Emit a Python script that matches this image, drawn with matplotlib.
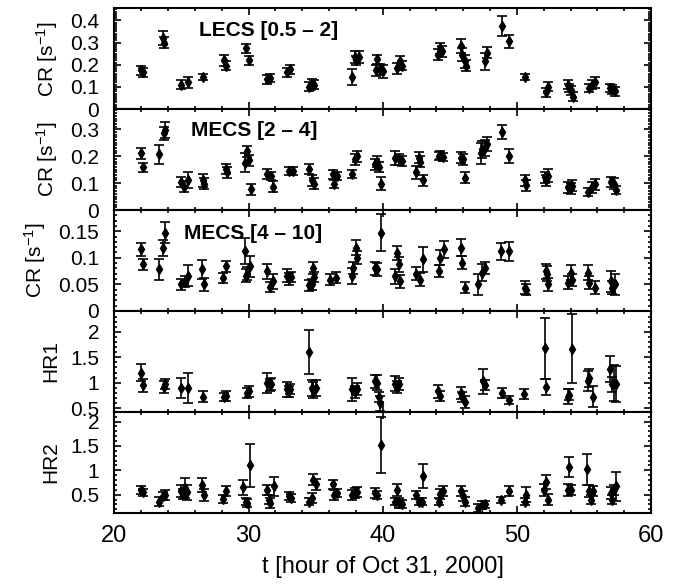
import numpy as np
import matplotlib
matplotlib.use("Agg")
import matplotlib.pyplot as plt
from matplotlib.ticker import MultipleLocator, FuncFormatter

plt.rcParams['font.family'] = ['Liberation Sans', 'DejaVu Sans']
plt.rcParams['mathtext.fontset'] = 'custom'
plt.rcParams['mathtext.rm'] = 'Liberation Sans'
plt.rcParams['mathtext.it'] = 'Liberation Sans:italic'

# LECS [0.5 - 2] count rate
t1 = [22.0, 22.1, 23.6, 23.7, 25.0,
      25.5, 26.6, 28.2, 28.3, 29.8,
      30.0, 31.4, 31.6, 32.9, 33.1,
      34.5, 34.7, 34.9, 37.7, 37.9,
      38.0, 38.2, 39.5, 39.6, 39.8,
      40.0, 41.1, 41.3, 41.4, 44.1,
      44.3, 44.4, 45.8, 45.9, 46.1,
      46.2, 47.6, 47.8, 48.9, 49.4,
      50.6, 52.2, 52.3, 53.8, 53.9,
      54.0, 54.2, 55.4, 55.6, 55.8,
      56.9, 57.1, 57.3]
cr1 = [0.175, 0.165, 0.32, 0.30, 0.11,
       0.12, 0.145, 0.22, 0.195, 0.275,
       0.22, 0.135, 0.14, 0.165, 0.18,
       0.10, 0.115, 0.11, 0.145, 0.235,
       0.22, 0.235, 0.175, 0.225, 0.18,
       0.17, 0.185, 0.215, 0.195, 0.245,
       0.275, 0.26, 0.285, 0.245, 0.215,
       0.195, 0.215, 0.255, 0.375, 0.305,
       0.145, 0.075, 0.10, 0.11, 0.095,
       0.085, 0.055, 0.095, 0.11, 0.12,
       0.095, 0.09, 0.08]
e1 = [0.02, 0.02, 0.03, 0.025, 0.02,
      0.025, 0.015, 0.025, 0.02, 0.02,
      0.02, 0.02, 0.02, 0.02, 0.02,
      0.02, 0.02, 0.02, 0.035, 0.025,
      0.02, 0.025, 0.025, 0.02, 0.025,
      0.03, 0.025, 0.025, 0.02, 0.025,
      0.025, 0.025, 0.03, 0.03, 0.03,
      0.025, 0.04, 0.025, 0.045, 0.03,
      0.015, 0.02, 0.02, 0.02, 0.02,
      0.02, 0.02, 0.02, 0.02, 0.025,
      0.02, 0.02, 0.02]

# MECS [2 - 4] count rate
t2 = [22.0, 22.1, 23.3, 23.7, 23.8,
      25.0, 25.2, 25.5, 26.6, 26.7,
      28.3, 28.4, 29.7, 29.9, 30.0,
      30.2, 31.4, 31.7, 31.8, 33.0,
      33.3, 34.5, 34.7, 34.9, 36.3,
      36.4, 36.6, 37.7, 37.9, 38.1,
      39.4, 39.6, 39.7, 39.9, 40.9,
      41.2, 41.4, 42.5, 42.7, 42.8,
      43.0, 44.2, 44.3, 44.5, 45.8,
      46.0, 46.1, 47.3, 47.4, 47.6,
      47.8, 48.9, 49.4, 50.6, 50.7,
      52.1, 52.2, 52.3, 53.8, 54.0,
      54.1, 55.3, 55.6, 55.8, 57.0,
      57.2, 57.4]
cr2 = [0.21, 0.158, 0.207, 0.285, 0.297,
       0.104, 0.086, 0.11, 0.11, 0.098,
       0.152, 0.14, 0.176, 0.218, 0.185,
       0.077, 0.134, 0.125, 0.086, 0.146,
       0.144, 0.152, 0.11, 0.098, 0.132,
       0.096, 0.128, 0.134, 0.188, 0.2,
       0.17, 0.18, 0.16, 0.098, 0.194,
       0.188, 0.182, 0.14, 0.194, 0.18,
       0.11, 0.2, 0.205, 0.198, 0.194,
       0.188, 0.12, 0.21, 0.225, 0.232,
       0.245, 0.29, 0.2, 0.11, 0.092,
       0.122, 0.11, 0.128, 0.084, 0.08,
       0.09, 0.068, 0.084, 0.095, 0.104,
       0.098, 0.074]
e2 = [0.02, 0.015, 0.035, 0.025, 0.03,
      0.02, 0.02, 0.03, 0.025, 0.02,
      0.02, 0.02, 0.035, 0.02, 0.02,
      0.02, 0.02, 0.015, 0.02, 0.015,
      0.015, 0.02, 0.02, 0.02, 0.015,
      0.015, 0.015, 0.015, 0.02, 0.02,
      0.02, 0.02, 0.02, 0.025, 0.025,
      0.02, 0.02, 0.025, 0.02, 0.02,
      0.02, 0.015, 0.015, 0.015, 0.02,
      0.02, 0.02, 0.04, 0.03, 0.03,
      0.025, 0.025, 0.025, 0.02, 0.02,
      0.02, 0.02, 0.025, 0.02, 0.02,
      0.02, 0.015, 0.02, 0.02, 0.02,
      0.02, 0.015]

# MECS [4 - 10] count rate
t3 = [22.0, 22.1, 23.3, 23.6, 23.8,
      25.0, 25.3, 25.5, 26.5, 26.7,
      28.1, 28.3, 29.7, 29.8, 29.9,
      30.1, 31.4, 31.6, 31.8, 32.9,
      33.0, 33.2, 34.5, 34.7, 34.8,
      34.9, 36.1, 36.5, 37.7, 37.8,
      38.0, 38.1, 39.4, 39.6, 39.9,
      40.9, 41.1, 41.2, 41.3, 42.5,
      42.8, 43.0, 44.2, 44.3, 44.6,
      45.8, 45.9, 46.1, 47.1, 47.4,
      47.6, 48.8, 49.4, 50.6, 50.7,
      52.2, 52.25, 52.3, 53.8, 54.0,
      54.1, 55.3, 55.4, 55.8, 57.0,
      57.1, 57.3]
cr3 = [0.116, 0.0875, 0.078, 0.119, 0.147,
       0.05, 0.055, 0.066, 0.078, 0.05,
       0.062, 0.084, 0.1125, 0.066, 0.07,
       0.084, 0.075, 0.045, 0.056, 0.066,
       0.06, 0.064, 0.048, 0.05, 0.081,
       0.064, 0.059, 0.0625, 0.066, 0.081,
       0.119, 0.1, 0.08, 0.078, 0.147,
       0.065, 0.109, 0.0875, 0.056, 0.07,
       0.059, 0.097, 0.075, 0.1, 0.116,
       0.119, 0.091, 0.044, 0.05, 0.072,
       0.081, 0.1125, 0.1125, 0.044, 0.04,
       0.075, 0.07, 0.05, 0.053, 0.072,
       0.058, 0.072, 0.053, 0.044, 0.056,
       0.044, 0.05]
e3 = [0.012, 0.01, 0.02, 0.015, 0.02,
      0.01, 0.01, 0.02, 0.018, 0.012,
      0.01, 0.01, 0.025, 0.012, 0.012,
      0.02, 0.014, 0.01, 0.014, 0.012,
      0.012, 0.01, 0.01, 0.01, 0.012,
      0.01, 0.01, 0.01, 0.015, 0.012,
      0.014, 0.012, 0.012, 0.012, 0.035,
      0.014, 0.014, 0.014, 0.012, 0.012,
      0.012, 0.024, 0.012, 0.014, 0.016,
      0.016, 0.012, 0.01, 0.02, 0.016,
      0.012, 0.016, 0.018, 0.012, 0.01,
      0.014, 0.014, 0.012, 0.012, 0.014,
      0.012, 0.014, 0.012, 0.012, 0.02,
      0.012, 0.02]

# hardness ratio HR1
t4 = [22.0, 22.1, 23.7, 23.8, 25.0,
      25.5, 26.6, 28.2, 28.3, 29.9,
      30.0, 31.4, 31.6, 31.7, 32.9,
      33.0, 33.1, 34.5, 34.7, 34.8,
      35.0, 37.7, 37.9, 38.1, 39.4,
      39.6, 39.7, 39.8, 40.9, 41.1,
      41.2, 44.1, 44.3, 45.8, 45.9,
      46.1, 47.5, 47.6, 48.9, 49.4,
      50.5, 52.1, 52.2, 53.8, 53.9,
      54.1, 55.3, 55.4, 55.7, 56.9,
      57.1, 57.2, 57.4]
hr1 = [1.2, 0.95, 0.92, 0.98, 0.9,
       0.9, 0.73, 0.72, 0.74, 0.8,
       0.83, 1.0, 0.95, 0.97, 0.87,
       0.83, 0.88, 1.6, 0.9, 0.86,
       0.9, 0.87, 0.82, 0.88, 1.03,
       1.0, 0.72, 0.6, 0.98, 0.92,
       0.97, 0.83, 0.74, 0.8, 0.72,
       0.63, 1.03, 0.96, 0.8, 0.67,
       0.78, 1.68, 0.92, 0.73, 0.77,
       1.67, 1.03, 1.1, 0.73, 1.27,
       0.97, 1.0, 0.97]
e4 = [0.17, 0.13, 0.12, 0.1, 0.2,
      0.3, 0.1, 0.08, 0.1, 0.1,
      0.1, 0.2, 0.12, 0.12, 0.15,
      0.1, 0.1, 0.43, 0.15, 0.15,
      0.15, 0.22, 0.12, 0.12, 0.13,
      0.15, 0.1, 0.15, 0.15, 0.12,
      0.12, 0.12, 0.1, 0.12, 0.1,
      0.12, 0.25, 0.1, 0.1, 0.08,
      0.1, 0.6, 0.16, 0.15, 0.1,
      0.67, 0.2, 0.18, 0.2, 0.25,
      0.15, 0.35, 0.35]

# hardness ratio HR2
t5 = [22.0, 22.1, 23.3, 23.6, 23.8,
      25.0, 25.1, 25.3, 25.4, 26.5,
      26.7, 28.1, 28.3, 29.6, 29.8,
      29.9, 30.1, 31.4, 31.5, 31.6,
      31.9, 33.0, 33.2, 34.5, 34.7,
      34.8, 35.0, 36.3, 36.4, 36.6,
      37.7, 37.9, 38.1, 39.4, 39.6,
      39.9, 40.9, 41.1, 41.2, 41.4,
      42.5, 42.7, 42.9, 43.0, 44.2,
      44.3, 44.5, 45.8, 46.0, 46.1,
      47.1, 47.4, 47.6, 48.8, 49.4,
      50.6, 50.7, 52.0, 52.2, 52.3,
      53.8, 53.9, 54.0, 55.2, 55.4,
      55.5, 55.7, 57.0, 57.1, 57.2,
      57.4]
hr2 = [0.6, 0.55, 0.36, 0.47, 0.5,
       0.57, 0.52, 0.64, 0.55, 0.7,
       0.5, 0.42, 0.57, 0.65, 0.36,
       0.33, 1.1, 0.6, 0.4, 0.33,
       0.67, 0.47, 0.43, 0.36, 0.43,
       0.81, 0.71, 0.71, 0.5, 0.53,
       0.5, 0.53, 0.56, 0.53, 0.5,
       1.52, 0.36, 0.6, 0.33, 0.31,
       0.5, 0.36, 0.36, 0.88, 0.36,
       0.52, 0.58, 0.57, 0.47, 0.36,
       0.22, 0.29, 0.3, 0.4, 0.58,
       0.36, 0.5, 0.6, 0.76, 0.4,
       0.6, 1.07, 0.6, 1.02, 0.57,
       0.4, 0.58, 0.53, 0.4, 0.6,
       0.67]
e5 = [0.08, 0.07, 0.1, 0.08, 0.1,
      0.12, 0.1, 0.2, 0.15, 0.15,
      0.12, 0.08, 0.1, 0.15, 0.08,
      0.08, 0.45, 0.1, 0.1, 0.1,
      0.2, 0.08, 0.08, 0.08, 0.1,
      0.12, 0.12, 0.1, 0.1, 0.08,
      0.1, 0.1, 0.1, 0.1, 0.08,
      0.57, 0.08, 0.12, 0.1, 0.08,
      0.08, 0.08, 0.08, 0.25, 0.08,
      0.1, 0.1, 0.1, 0.1, 0.1,
      0.08, 0.08, 0.08, 0.06, 0.1,
      0.08, 0.15, 0.12, 0.15, 0.12,
      0.12, 0.2, 0.1, 0.32, 0.12,
      0.1, 0.1, 0.12, 0.1, 0.1,
      0.3]

panels = [
    (t1, cr1, e1, "CR [s$^{-1}$]", (0, 0.455), [0, 0.1, 0.2, 0.3, 0.4], 0.01, "LECS [0.5 \u2013 2]"),
    (t2, cr2, e2, "CR [s$^{-1}$]", (0, 0.375), [0, 0.1, 0.2, 0.3], 0.01, "MECS [2 \u2013 4]"),
    (t3, cr3, e3, "CR [s$^{-1}$]", (0, 0.19), [0, 0.05, 0.1, 0.15], 0.01, "MECS [4 \u2013 10]"),
    (t4, hr1, e4, "HR1", (0.43, 2.41), [0.5, 1, 1.5, 2], 0.1, None),
    (t5, hr2, e5, "HR2", (0.13, 2.2), [0.5, 1, 1.5, 2], 0.1, None),
]
title_pos = [(0.158, 0.78), (0.143, 0.785), (0.13, 0.77)]

fig, axes = plt.subplots(nrows=5, sharex=True, figsize=(6.89, 5.84), dpi=100,
                         gridspec_kw=dict(hspace=0))
fig.subplots_adjust(left=0.166, right=0.945, top=0.986, bottom=0.122)

fmt = FuncFormatter(lambda v, p: "%g" % v)

for i, (t, y, e, lab, lim, ticks, minor, title) in enumerate(panels):
    ax = axes[i]
    ax.errorbar(t, y, yerr=e, fmt='d', color='black', ms=5.5, elinewidth=1.2,
                capsize=3.5, capthick=1.2)
    ax.set_ylim(*lim)
    ax.set_yticks(ticks)
    ax.yaxis.set_major_formatter(fmt)
    ax.yaxis.set_minor_locator(MultipleLocator(minor))
    ax.set_ylabel(lab, fontsize=15, labelpad=7)
    ax.tick_params(which='both', direction='in', top=True, right=True,
                   labelsize=15, width=1.2)
    ax.tick_params(axis='y', pad=11)
    ax.tick_params(which='major', length=5)
    ax.tick_params(which='minor', length=2.5)
    for s in ax.spines.values():
        s.set_linewidth(1.5)
    if title:
        tx, ty = title_pos[i]
        ax.text(tx, ty, title, transform=ax.transAxes, fontsize=15,
                fontweight='bold', va='center', ha='left')

axes[-1].set_xlim(20, 60)
axes[-1].xaxis.set_major_locator(MultipleLocator(10))
axes[-1].xaxis.set_minor_locator(MultipleLocator(2))
axes[-1].set_xlabel("t [hour of Oct 31, 2000]", fontsize=17, labelpad=6)
axes[-1].tick_params(axis='x', labelsize=17, pad=9)

plt.savefig("out.png", dpi=100)
